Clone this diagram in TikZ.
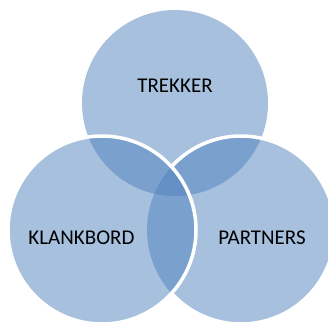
\documentclass[tikz,border=0pt]{standalone}
\usepackage{fontspec}
\setmainfont{Carlito}
\definecolor{accent}{HTML}{4F81BD}
\begin{document}
\begin{tikzpicture}[x=1pt,y=-1pt,
  venn/.style={fill=accent,fill opacity=0.5},
  rim/.style={draw=white,line width=3.5pt},
  lbl/.style={anchor=base,inner sep=0pt,text=black,font=\fontsize{21}{25}\selectfont}]
\useasboundingbox (0,0) rectangle (328,322);
\clip (0,0) rectangle (328,322);
\coordinate (ct) at (175,103);
\coordinate (cl) at (102,230);
\coordinate (cr) at (241,230);
% fills
\fill[venn] (ct) circle[radius=93];
\fill[venn] (cr) circle[radius=94];
\fill[venn] (cl) circle[radius=94];
% right rim, only outside the left circle
\begin{scope}[even odd rule]
  \clip (-10,-10) rectangle (340,340) (cl) circle[radius=94];
  \draw[rim] (cr) circle[radius=94];
\end{scope}
% left rim
\draw[rim] (cl) circle[radius=94];
% labels
\node[lbl] (trekker) at (175,92) {TREKKER};
\node[lbl] (klankbord) at (81.5,244.5) {KLANKBORD};
\node[lbl] (partners) at (262,244.5) {PARTNERS};
\end{tikzpicture}
\end{document}
